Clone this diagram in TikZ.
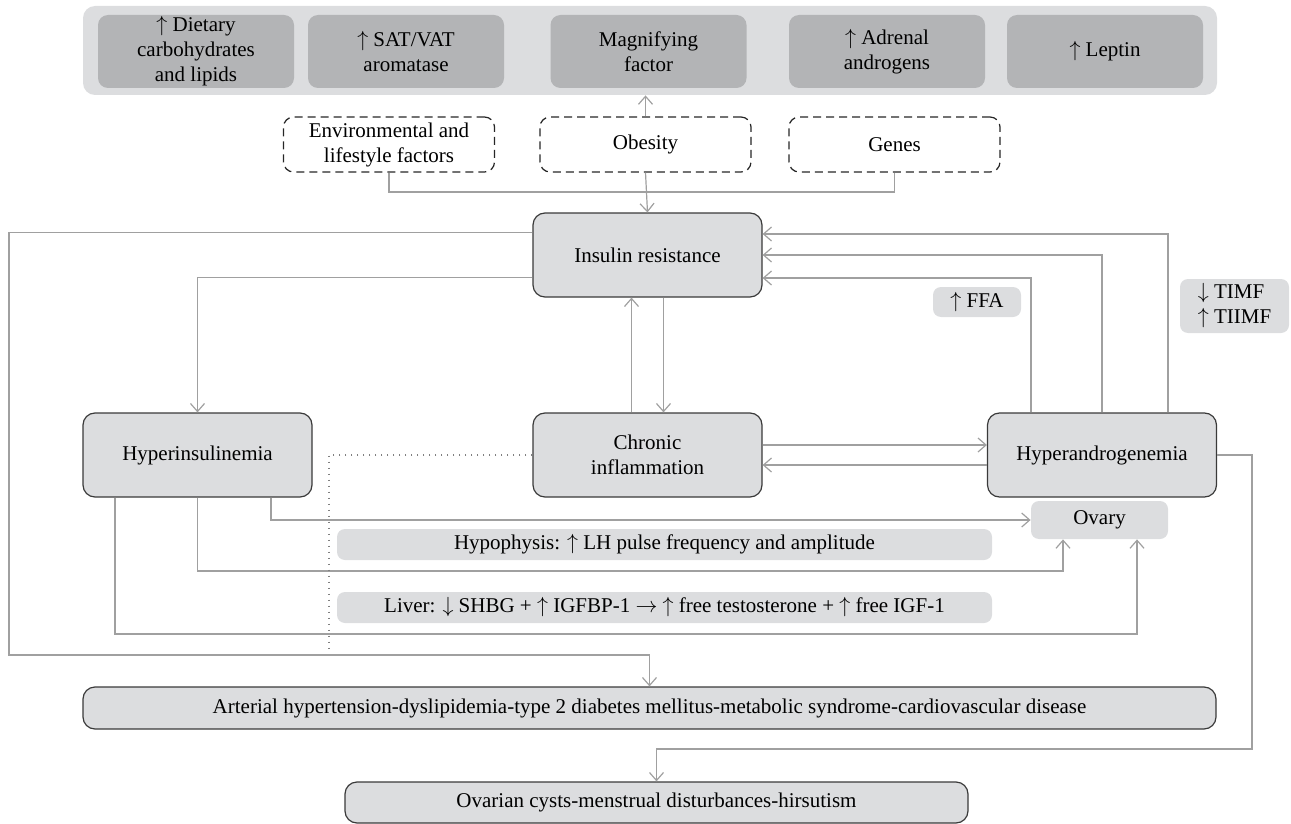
\documentclass[tikz,border=0pt]{standalone}
\usepackage{fontspec}
\setmainfont{Liberation Serif}
\usetikzlibrary{arrows.meta}

\definecolor{boxgray}{HTML}{DCDDDF}
\definecolor{topgray}{HTML}{B3B4B6}
\definecolor{linegray}{HTML}{A0A0A0}
\definecolor{edgegray}{HTML}{3A3A3A}

\newcommand{\up}{$\uparrow$\ }
\newcommand{\down}{$\downarrow$\ }

\tikzset{
  conn/.style={draw=linegray,line width=0.6pt},
  arr/.style={conn,-{Straight Barb[length=4pt,width=7pt]}}
}

\begin{document}
\begin{tikzpicture}[x=0.5pt,y=-0.5pt,font=\fontsize{10.5}{12.5}\selectfont]

        \useasboundingbox (0,0) rectangle (1291,824);

        % top strip
        \node[fill=boxgray,rounded corners=6pt,inner sep=0pt,minimum width=567pt,minimum height=44.5pt] (bar) at (650,50.5) {};

        \begin{scope}[every node/.style={fill=topgray,rounded corners=5pt,align=center,inner sep=0pt,minimum width=98pt,minimum height=36.5pt}]
          \node (diet)   at (196,51.5)   {\up Dietary\\carbohydrates\\and lipids};
          \node (satvat) at (406,51.5)   {\up SAT/VAT\\aromatase};
          \node (magn)   at (648.5,51.5) {Magnifying\\factor};
          \node (adren)  at (887,51.5)   {\up Adrenal\\androgens};
          \node (leptin) at (1105,51.5)  {\up Leptin};
        \end{scope}

        \begin{scope}[every node/.style={draw=black!85,line width=0.6pt,dash pattern=on 4pt off 2.5pt,rounded corners=5pt,align=center,inner sep=0pt,minimum width=105.5pt,minimum height=27.5pt}]
          \node (env)   at (389,144.5)   {Environmental and\\lifestyle factors};
          \node (obes)  at (645.5,144.5) {Obesity};
          \node (genes) at (894.5,144.5) {Genes};
        \end{scope}

        \begin{scope}[every node/.style={draw=edgegray,fill=boxgray,line width=0.6pt,rounded corners=6pt,align=center,inner sep=0pt,minimum width=114.5pt,minimum height=42pt}]
          \node (insulin)  at (647.5,255) {Insulin resistance};
          \node (hyperins) at (197.5,455) {Hyperinsulinemia};
          \node (chronic)  at (647.5,455) {Chronic\\inflammation};
          \node (hyperand) at (1102,455)  {Hyperandrogenemia};
          \node[minimum width=566.5pt,minimum height=21pt] (arterial) at (649.5,708) {Arterial hypertension-dyslipidemia-type 2 diabetes mellitus-metabolic syndrome-cardiovascular disease};
          \node[minimum width=311.5pt,minimum height=20.5pt] (ovarian) at (656.5,802.5) {Ovarian cysts-menstrual disturbances-hirsutism};
        \end{scope}

        \begin{scope}[every node/.style={fill=boxgray,rounded corners=4pt,align=center,inner sep=0pt}]
          \node[minimum width=44pt,minimum height=15pt]   (ffa)   at (977,302)    {\up FFA};
          \node[minimum width=54.5pt,minimum height=27pt,align=left] (timf) at (1234.5,306) {\down TIMF\\\up TIIMF};
          \node[minimum width=68.5pt,minimum height=19pt] (ovary) at (1099.5,520)  {Ovary};
          \node[minimum width=327.5pt,minimum height=15.5pt] (hypo)  at (664.5,544.5) {Hypophysis: \up LH pulse frequency and amplitude};
          \node[minimum width=327.5pt,minimum height=15.5pt] (liver) at (664.5,607.5) {Liver: \down SHBG + \up IGFBP-1 $\rightarrow$ \up free testosterone + \up free IGF-1};
        \end{scope}

        \coordinate (join)   at (645.5,192);
        \coordinate (lloop)  at (9,655);
        \coordinate (rloop)  at (1252,749);
        \coordinate (dotend) at (329,650);
        \coordinate (lhA)    at (1063,571);
        \coordinate (lhB)    at (1137,634);

        % causes
        \draw[conn] (env.south) |- (join) -| (genes.south);
        \draw[arr] (obes.south) -- (insulin.north);
        \draw[arr] (obes.north) -- (obes.north |- bar.south);

        % insulin resistance loops
        \draw[arr] ([yshift=-10pt]insulin.north west) -| (lloop) -| (arterial.north);
        \draw[arr] ([yshift=10pt]insulin.south west) -| (hyperins.north);
        \draw[arr] ([xshift=-8pt]chronic.north) -- ([xshift=-8pt]insulin.south);
        \draw[arr] ([xshift=8pt]insulin.south) -- ([xshift=8pt]chronic.north);

        % hyperandrogenemia
        \draw[arr] ([xshift=-35.5pt]hyperand.north) |- ([yshift=-11.5pt]insulin.east);
        \draw[arr] (hyperand.north) |- (insulin.east);
        \draw[arr] ([xshift=33pt]hyperand.north) |- ([yshift=10.5pt]insulin.east);
        \draw[arr] ([yshift=5pt]chronic.east) -- ([yshift=5pt]hyperand.west);
        \draw[arr] ([yshift=-5pt]hyperand.west) -- ([yshift=-5pt]chronic.east);
        \draw[arr] (hyperand.east) -| (rloop) -| (ovarian.north);

        % hyperinsulinemia to ovary
        \draw[arr] ([xshift=36.75pt]hyperins.south) |- (ovary.west);
        \draw[arr] (hyperins.south) |- (lhA) -- (lhA |- ovary.south);
        \draw[arr] ([xshift=-41.25pt]hyperins.south) |- (lhB) -- (lhB |- ovary.south);

        \draw[draw=gray,line width=0.6pt,dash pattern=on 0.6pt off 2.4pt] (chronic.west) -| (dotend);

      \end{tikzpicture}
\end{document}
